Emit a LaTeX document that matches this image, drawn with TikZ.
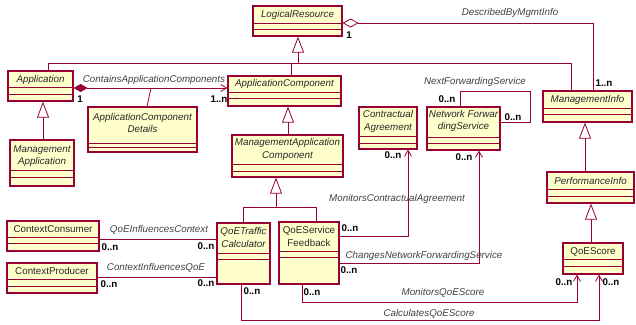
\documentclass[tikz,border=0pt]{standalone}
\usepackage{fontspec}
\setmainfont{Liberation Sans}
\usetikzlibrary{arrows.meta,fit}
\definecolor{umlred}{HTML}{990033}
\definecolor{umlfill}{HTML}{FFFFCC}
\tikzset{
 cls/.style={draw=umlred, fill=umlfill, line width=1.2pt, inner sep=0pt},
 sepline/.style={draw=umlred, line width=0.9pt},
 conn/.style={draw=umlred, line width=0.8pt},
 gen/.style={conn, -{Triangle[open, length=16pt, width=12pt, fill=white]}},
 nav/.style={conn, -{Straight Barb[length=6pt, width=7pt]}},
 comp/.style={conn, {Diamond[length=14pt,width=8pt,fill=umlred]}-{Straight Barb[length=6pt,width=7pt]}},
 aggr/.style={conn, {Diamond[open,length=16pt,width=9pt,fill=white]}-},
 cname/.style={font=\fontsize{9.8}{12.5}\selectfont\itshape, text=black!85, inner sep=0pt, align=center},
 cnamer/.style={font=\fontsize{9.8}{12.5}\selectfont, text=black!85, inner sep=0pt, align=center},
 lbl/.style={font=\fontsize{9.8}{11}\selectfont\itshape, text=black!75, inner sep=0pt},
 mult/.style={font=\fontsize{9.8}{11}\selectfont\bfseries, text=black, inner sep=0pt},
}
\newcommand\umlcls[7]{%
 \node[cls, fit={(#2,#3) (#4,#5)}] (#1) {};
 \draw[sepline] (#2,#6) -- (#4,#6) (#2,#7) -- (#4,#7);
}
\begin{document}
\begin{tikzpicture}[x=1pt,y=-1pt]
\useasboundingbox (0,0) rectangle (636,324);
% classes
\umlcls{LR}{253}{6}{342}{36}{23}{29.5}
\node[cname] (tLR) at (297.5,14.5) {LogicalResource};
\umlcls{App}{8}{71}{73}{101}{87}{94}
\node[cname] (tApp) at (40.5,79.5) {Application};
\umlcls{MA}{10}{140}{74}{186}{170}{177}
\node[cname] (tMA) at (42,156) {Management\\Application};
\umlcls{AC}{228}{76}{341}{106}{92}{98}
\node[cname] (tAC) at (284.5,84) {ApplicationComponent};
\umlcls{ACD}{88}{107}{197}{152}{143}{147}
\node[cname] (tACD) at (142.5,123) {ApplicationComponent\\Details};
\umlcls{MAC}{232}{135}{343}{177}{164}{171}
\node[cname] (tMAC) at (287.5,149.5) {ManagementApplication\\Component};
\umlcls{CA}{359}{107}{417}{149}{136}{143}
\node[cname] (tCA) at (388,121.5) {Contractual\\Agreement};
\umlcls{NFS}{427}{107}{500}{150}{137}{143}
\node[cname] (tNFS) at (463.5,121) {Network Forwar\\dingService};
\umlcls{MI}{543}{91}{632}{122}{108}{114}
\node[cname] (tMI) at (587.5,99.5) {ManagementInfo};
\umlcls{PI}{547}{172}{634}{203}{189}{196}
\node[cname] (tPI) at (590.5,180.5) {PerformanceInfo};
\umlcls{QS}{563}{243}{623}{274}{259}{266}
\node[cnamer] (tQS) at (593,251.5) {QoEScore};
\umlcls{QTC}{217}{223}{270}{284}{253}{259}
\node[cname] (tQTC) at (243.5,237.5) {QoETraffic\\Calculator};
\umlcls{QSF}{279}{222}{339}{284}{251}{257}
\node[cnamer] (tQSF) at (309,236.5) {QoEService\\Feedback};
\umlcls{CC}{7}{221}{99}{251}{237}{243}
\node[cnamer] (tCC) at (53,229.5) {ContextConsumer};
\umlcls{CP}{7}{263}{97}{293}{279}{286}
\node[cnamer] (tCP) at (52,271) {ContextProducer};
% generalizations
\coordinate (busA) at (48,63);
\coordinate (busB) at (571,63);
\draw[conn] (App.north -| busA) -- (busA) -- (busB) -- (MI.north -| busB);
\coordinate (busAC) at (291,63);
\draw[conn] (busAC) -- (AC.north -| busAC);
\coordinate (busLR) at (298,63);
\draw[gen] (busLR) -- (LR.south -| busLR);
\coordinate (gMA) at (43,0);
\draw[gen] (MA.north -| gMA) -- (App.south -| gMA);
\coordinate (gMAC) at (288,0);
\draw[gen] (MAC.north -| gMAC) -- (AC.south -| gMAC);
\coordinate (busC) at (243,207);
\coordinate (busD) at (316,207);
\coordinate (busM) at (276,207);
\draw[conn] (QTC.north -| busC) -- (busC) -- (busD) -- (QSF.north -| busD);
\draw[gen] (busM) -- (MAC.south -| busM);
\coordinate (gPI) at (585,0);
\draw[gen] (PI.north -| gPI) -- (MI.south -| gPI);
\coordinate (gQS) at (591,0);
\draw[gen] (QS.north -| gQS) -- (PI.south -| gQS);
% associations
\coordinate (yComp) at (0,88);
\draw[comp] (App.east |- yComp) -- (AC.west |- yComp);
\coordinate (acdJ) at (151,88);
\draw[conn] (ACD.north -| 147,0) -- (acdJ);
\coordinate (yAgg) at (593,23);
\draw[aggr] (LR.east |- yAgg) -- (yAgg) -- (MI.north -| yAgg);
\coordinate (lpA) at (460,91);
\coordinate (lpB) at (530,91);
\coordinate (lpC) at (530,122);
\draw[conn] (NFS.north -| lpA) -- (lpA) -- (lpB) -- (lpC) -- (NFS.east |- lpC);
\coordinate (mca) at (408,236);
\draw[nav] (QSF.east |- mca) -- (mca) -- (CA.south -| mca);
\coordinate (cnf) at (479,263);
\draw[nav] (QSF.east |- cnf) -- (cnf) -- (NFS.south -| cnf);
\coordinate (mqA) at (302,302);
\coordinate (mqB) at (577,302);
\draw[nav] (QSF.south -| mqA) -- (mqA) -- (mqB) -- (QS.south -| mqB);
\coordinate (cqA) at (241,320);
\coordinate (cqB) at (599,320);
\draw[nav] (QTC.south -| cqA) -- (cqA) -- (cqB) -- (QS.south -| cqB);
\coordinate (yQIC) at (0,239);
\draw[conn] (CC.east |- yQIC) -- (QTC.west |- yQIC);
\coordinate (yCIQ) at (0,277);
\draw[conn] (CP.east |- yCIQ) -- (QTC.west |- yCIQ);
% labels
\node[lbl] (l1) at (154,80) {ContainsApplicationComponents};
\node[mult] (m1) at (80,99) {1};
\node[mult] (m2) at (219,99) {1..n};
\node[lbl] (l2) at (510,13) {DescribedByMgmtInfo};
\node[mult] (m3) at (349,35) {1};
\node[mult] (m4) at (604,83) {1..n};
\node[lbl] (l3) at (475,82) {NextForwardingService};
\node[mult] (m5) at (447,99) {0..n};
\node[mult] (m6) at (513,117) {0..n};
\node[lbl] (l4) at (397,199) {MonitorsContractualAgreement};
\node[mult] (m7) at (350,228) {0..n};
\node[mult] (m8) at (393,155) {0..n};
\node[lbl] (l5) at (424,256) {ChangesNetworkForwardingService};
\node[mult] (m9) at (349,270) {0..n};
\node[mult] (m10) at (464,157) {0..n};
\node[lbl] (l6) at (443,293) {MonitorsQoEScore};
\node[mult] (m11) at (312,292) {0..n};
\node[mult] (m12) at (564,282) {0..n};
\node[lbl] (l7) at (429,314) {CalculatesQoEScore};
\node[mult] (m13) at (252,291) {0..n};
\node[mult] (m14) at (611,282) {0..n};
\node[lbl] (l8) at (159,230) {QoEInfluencesContext};
\node[mult] (m15) at (110,247) {0..n};
\node[mult] (m16) at (206,246) {0..n};
\node[lbl] (l9) at (156,268) {ContextInfluencesQoE};
\node[mult] (m17) at (109,284) {0..n};
\node[mult] (m18) at (206,283) {0..n};
\end{tikzpicture}
\end{document}
